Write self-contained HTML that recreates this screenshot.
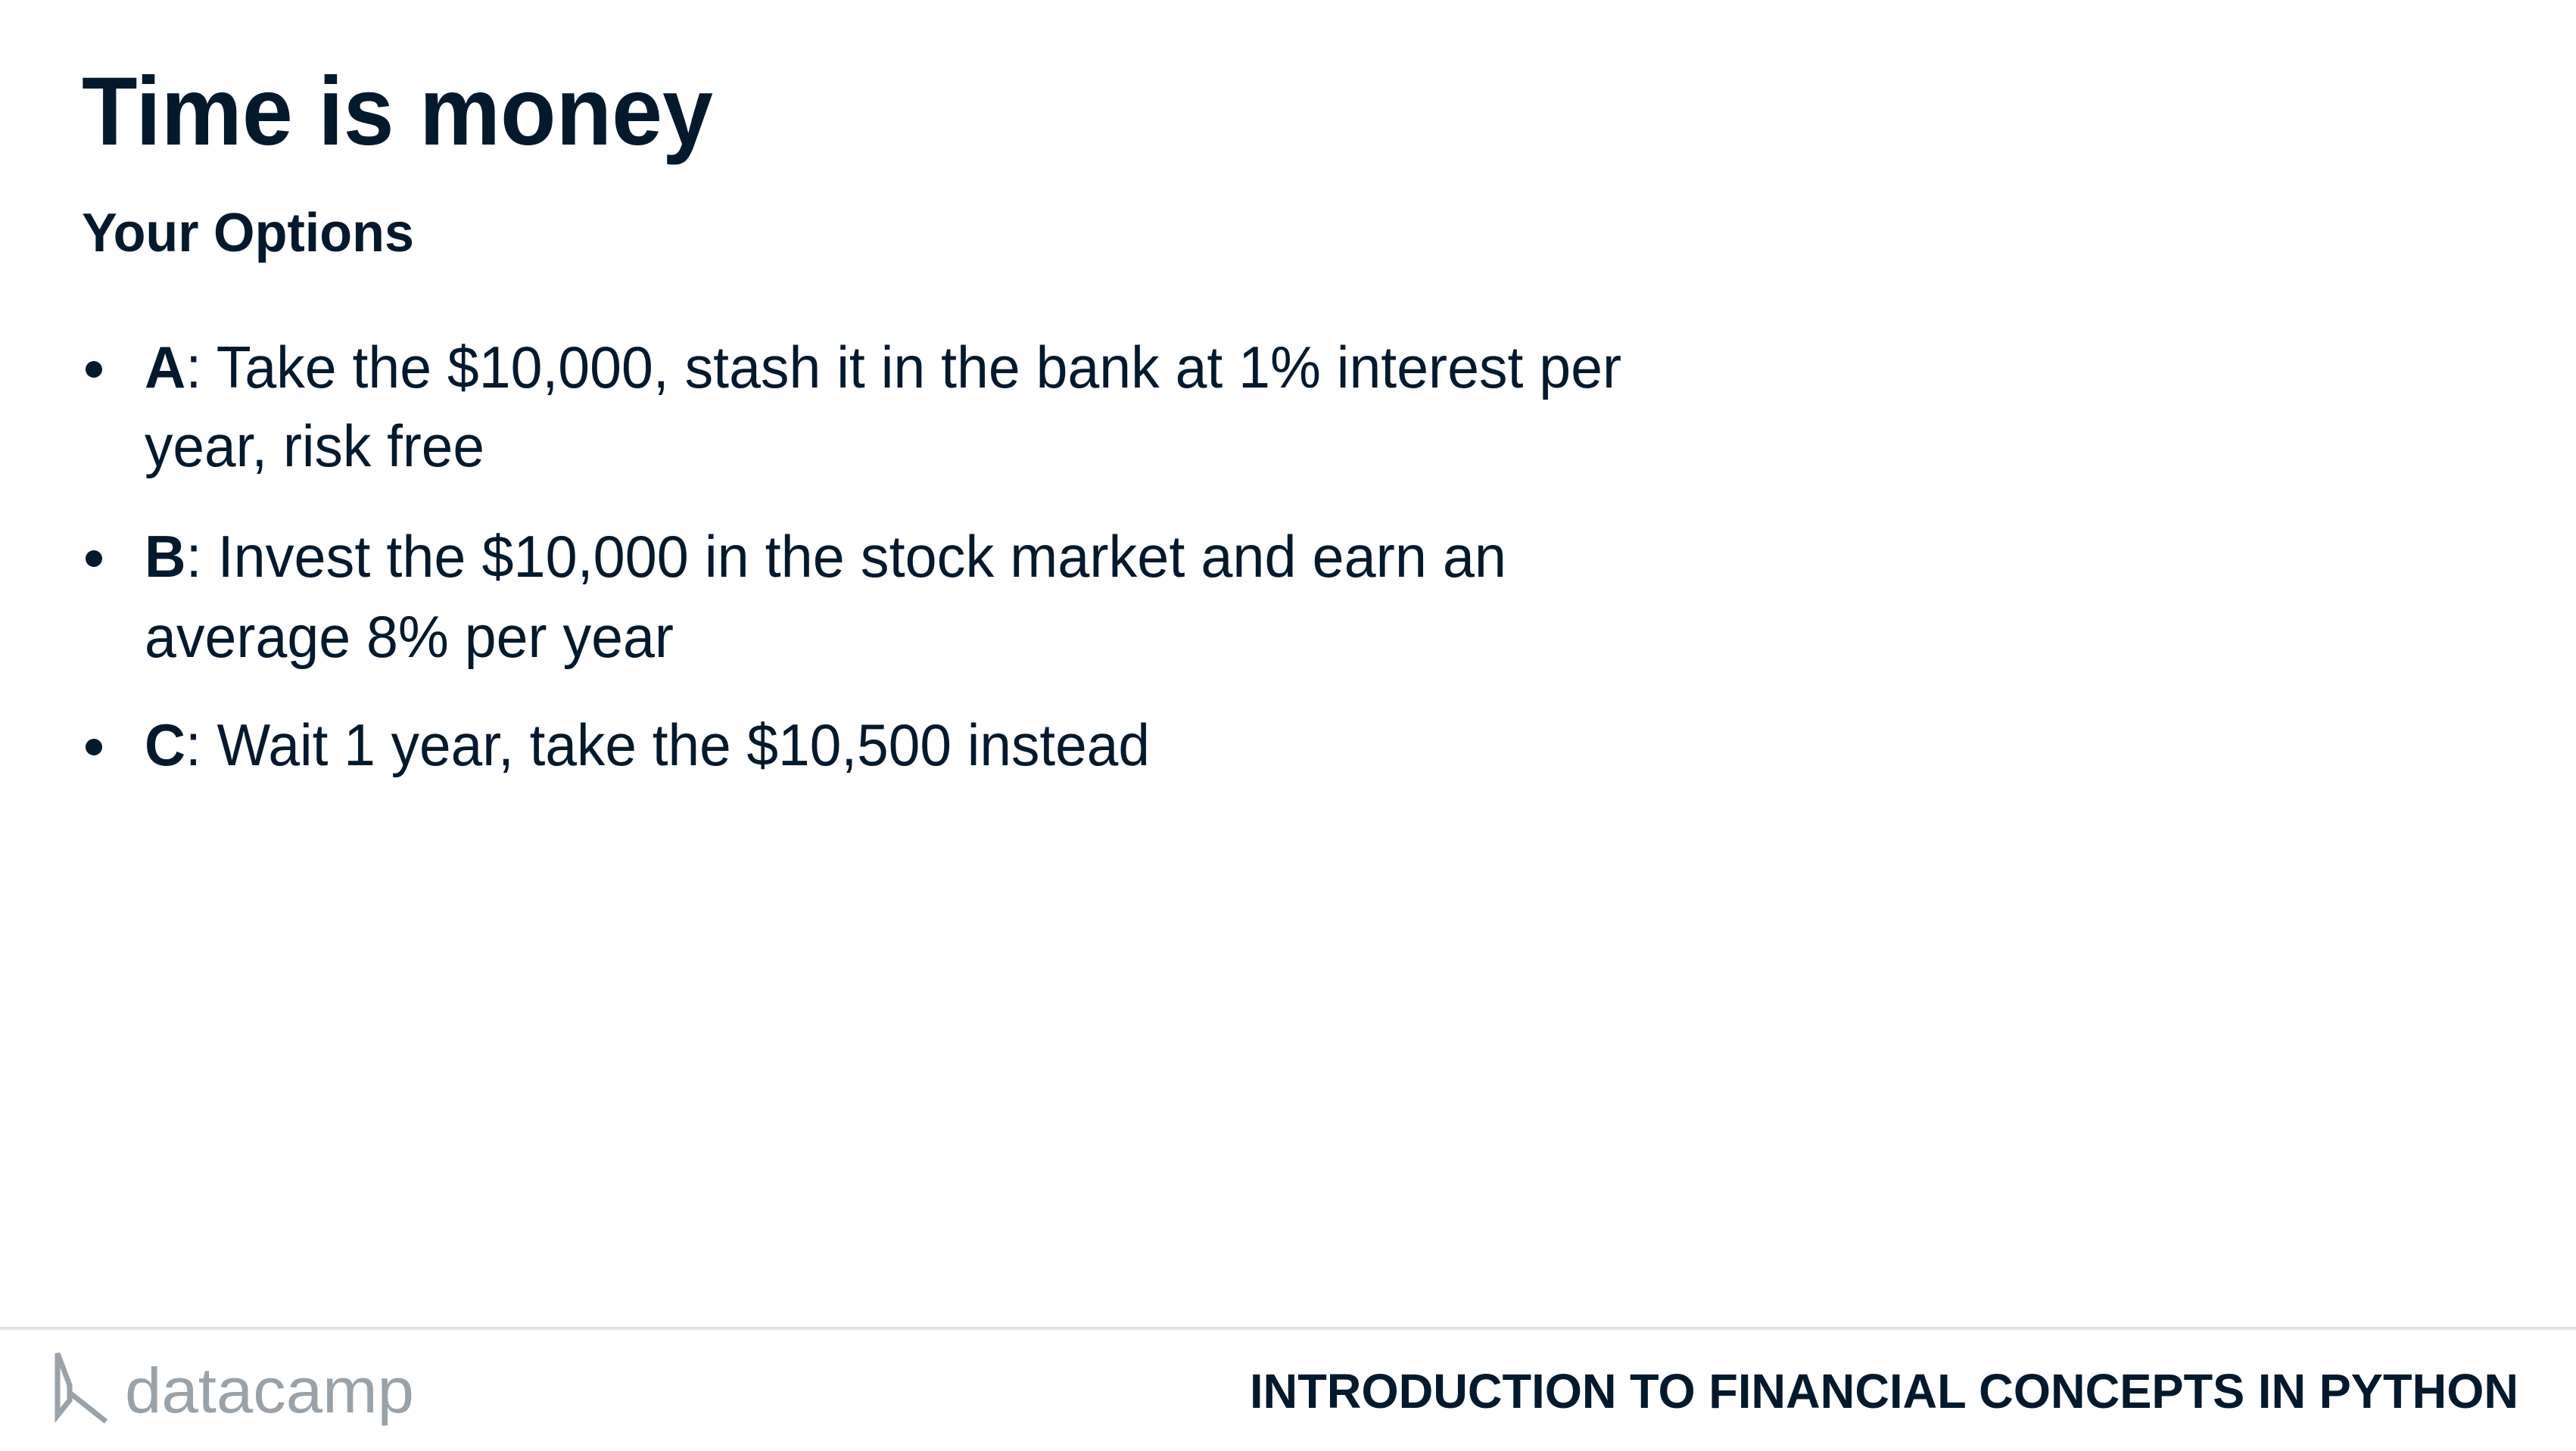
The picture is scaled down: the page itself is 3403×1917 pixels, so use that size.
<!DOCTYPE html>
<html><head><meta charset="utf-8"><style>
html,body{margin:0;padding:0;background:#fff;}
svg{display:block;}
text{font-family:"Liberation Sans",sans-serif;fill:#05192d;}
</style></head><body>
<svg width="3403" height="1917" viewBox="0 0 3403 1917">
<rect width="3403" height="1917" fill="#fff"/>
<text x="108" y="191" font-size="128" font-weight="bold" textLength="834" lengthAdjust="spacingAndGlyphs">Time is money</text>
<text x="108" y="332" font-size="72" font-weight="bold" textLength="439" lengthAdjust="spacingAndGlyphs">Your Options</text>

<circle cx="124" cy="488" r="11" fill="#05192d"/>
<text x="191" y="512" font-size="78" textLength="1951" lengthAdjust="spacingAndGlyphs"><tspan font-weight="bold">A</tspan>: Take the $10,000, stash it in the bank at 1% interest per</text>
<text x="191" y="616" font-size="78" textLength="449" lengthAdjust="spacingAndGlyphs">year, risk free</text>

<circle cx="124" cy="738" r="11" fill="#05192d"/>
<text x="191" y="762" font-size="78" textLength="1799" lengthAdjust="spacingAndGlyphs"><tspan font-weight="bold">B</tspan>: Invest the $10,000 in the stock market and earn an</text>
<text x="191" y="868" font-size="78" textLength="699" lengthAdjust="spacingAndGlyphs">average 8% per year</text>

<circle cx="124" cy="987" r="11" fill="#05192d"/>
<text x="191" y="1011" font-size="78" textLength="1328" lengthAdjust="spacingAndGlyphs"><tspan font-weight="bold">C</tspan>: Wait 1 year, take the $10,500 instead</text>

<rect x="0" y="1753" width="3403" height="4" fill="#e5e1da"/>
<g fill="none" stroke="#9aa2a9" stroke-width="7">
<path d="M76 1788 L76 1870 L92 1850 L92 1830 Z M92 1840 L140 1878"/>
</g>
<text x="165" y="1866" font-size="84" style="fill:#9aa2a9" textLength="382" lengthAdjust="spacingAndGlyphs">datacamp</text>
<text x="1651" y="1860" font-size="64" font-weight="bold" textLength="1676" lengthAdjust="spacingAndGlyphs">INTRODUCTION TO FINANCIAL CONCEPTS IN PYTHON</text>
</svg>
</body></html>
